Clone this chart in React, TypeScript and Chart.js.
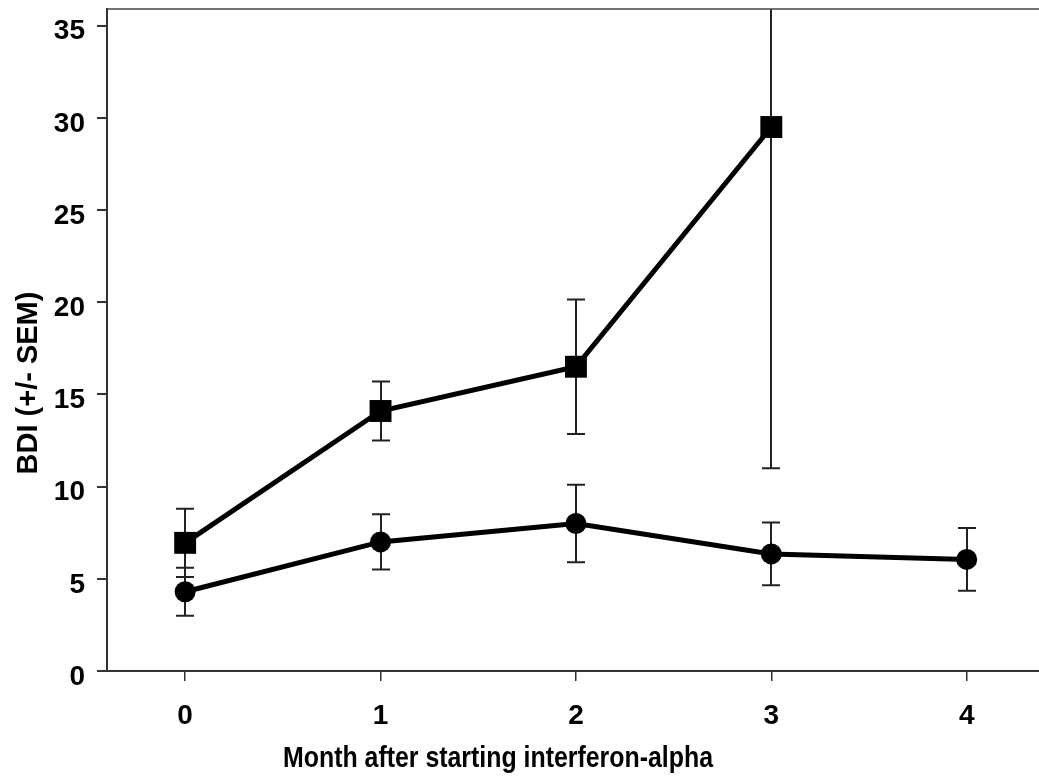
import React, { useEffect, useRef } from 'react';
import { Chart, registerables } from 'chart.js';

Chart.register(...registerables);

// ---- data ----
const squareMonths = [0, 1, 2, 3];
const squareMean = [6.95, 14.1, 16.5, 29.5];
const squareSem = [1.85, 1.6, 3.65, 18.5];

const circleMonths = [0, 1, 2, 3, 4];
const circleMean = [4.3, 7.0, 8.0, 6.35, 6.05];
const circleSem = [1.3, 1.5, 2.1, 1.7, 1.7];

const xTickValues = [0, 1, 2, 3, 4];
const yTickValues = [0, 5, 10, 15, 20, 25, 30, 35];

const xTitle = 'Month after starting interferon-alpha';
const yTitle = 'BDI (+/- SEM)';

const FONT = '"Liberation Sans", Arial, Helvetica, sans-serif';

const errorBarPlugin = {
  id: 'errorBars',
  beforeDatasetsDraw(chart: any) {
    const { ctx, chartArea, scales } = chart;
    const xs = scales.x;
    const ys = scales.y;
    ctx.save();
    ctx.beginPath();
    ctx.rect(chartArea.left, chartArea.top, chartArea.right - chartArea.left, chartArea.bottom - chartArea.top);
    ctx.clip();
    ctx.strokeStyle = '#222';
    ctx.lineWidth = 2;
    chart.data.datasets.forEach((ds: any) => {
      const errs: number[] = ds.errors || [];
      ds.data.forEach((p: any, i: number) => {
        const e = errs[i];
        if (e == null) return;
        const px = Math.round(xs.getPixelForValue(p.x));
        const hi = ys.getPixelForValue(p.y + e);
        const lo = ys.getPixelForValue(p.y - e);
        ctx.beginPath();
        ctx.moveTo(px, hi);
        ctx.lineTo(px, lo);
        ctx.moveTo(px - 9, hi);
        ctx.lineTo(px + 9, hi);
        ctx.moveTo(px - 9, lo);
        ctx.lineTo(px + 9, lo);
        ctx.stroke();
      });
    });
    ctx.restore();
  },
};

const framePlugin = {
  id: 'frameAndTitles',
  afterDraw(chart: any) {
    const { ctx, chartArea } = chart;
    ctx.save();
    // top frame line
    ctx.strokeStyle = '#444';
    ctx.lineWidth = 1.5;
    ctx.beginPath();
    ctx.moveTo(chartArea.left, chartArea.top);
    ctx.lineTo(chartArea.right, chartArea.top);
    ctx.stroke();

    ctx.fillStyle = '#000';
    // x title (narrow bold lettering)
    ctx.font = 'bold 29px ' + FONT;
    ctx.textAlign = 'center';
    ctx.textBaseline = 'alphabetic';
    const w = ctx.measureText(xTitle).width;
    const sx = Math.min(1, 430 / w);
    ctx.save();
    ctx.translate(498, 767);
    ctx.scale(sx, 1);
    ctx.fillText(xTitle, 0, 0);
    ctx.restore();

    // y title
    ctx.save();
    ctx.font = 'bold 29px ' + FONT;
    ctx.translate(37, 383);
    ctx.rotate(-Math.PI / 2);
    ctx.textAlign = 'center';
    ctx.textBaseline = 'alphabetic';
    ctx.fillText(yTitle, 0, 0);
    ctx.restore();
    ctx.restore();
  },
};

export default function App() {
  const ref = useRef<HTMLCanvasElement | null>(null);

  useEffect(() => {
    const canvas = ref.current;
    if (!canvas) return;
    const chart = new Chart(canvas, {
      type: 'line',
      data: {
        datasets: [
          {
            label: 'Depressed',
            data: squareMonths.map((m, i) => ({ x: m, y: squareMean[i] })),
            errors: squareSem,
            borderColor: '#000',
            backgroundColor: '#000',
            borderWidth: 5,
            pointStyle: 'rect',
            pointRadius: 15.5,
            pointHoverRadius: 15.5,
            pointBorderWidth: 0,
            pointBackgroundColor: '#000',
          } as any,
          {
            label: 'Non-depressed',
            data: circleMonths.map((m, i) => ({ x: m, y: circleMean[i] })),
            errors: circleSem,
            borderColor: '#000',
            backgroundColor: '#000',
            borderWidth: 5,
            pointStyle: 'circle',
            pointRadius: 10.5,
            pointHoverRadius: 10.5,
            pointBorderWidth: 0,
            pointBackgroundColor: '#000',
          } as any,
        ],
      },
      options: {
        animation: false,
        responsive: false,
        devicePixelRatio: 1,
        layout: { padding: { top: 9, right: 0, bottom: 0, left: 0 }, autoPadding: false },
        plugins: {
          legend: { display: false },
          tooltip: { enabled: false },
          title: { display: false },
        },
        scales: {
          x: {
            type: 'linear',
            min: -0.4,
            max: 4.37,
            afterBuildTicks: (s: any) => {
              s.ticks = xTickValues.map((v) => ({ value: v }));
            },
            afterFit: (s: any) => {
              s.height = 108;
              s.paddingLeft = 0;
              s.paddingRight = 0;
            },
            border: { display: true, color: '#333', width: 2 },
            grid: {
              display: true,
              drawOnChartArea: false,
              drawTicks: true,
              tickLength: 10,
              color: '#333',
              lineWidth: 1.5,
            },
            ticks: {
              color: '#000',
              padding: 18,
              font: { family: FONT, size: 28, weight: 'bold' },
              callback: (v: any) => String(v),
            },
          },
          y: {
            type: 'linear',
            min: 0,
            max: 35.9,
            afterBuildTicks: (s: any) => {
              s.ticks = yTickValues.map((v) => ({ value: v }));
            },
            afterFit: (s: any) => {
              s.width = 107;
              s.paddingTop = 0;
              s.paddingBottom = 0;
            },
            border: { display: true, color: '#333', width: 2 },
            grid: {
              display: true,
              drawOnChartArea: false,
              drawTicks: true,
              tickLength: 10,
              color: '#333',
              lineWidth: 2,
            },
            ticks: {
              color: '#000',
              padding: 12,
              labelOffset: 6,
              font: { family: FONT, size: 28, weight: 'bold' },
              callback: (v: any) => String(v),
            },
          },
        },
      } as any,
      plugins: [errorBarPlugin, framePlugin],
    });
    return () => chart.destroy();
  }, []);

  return (
    <div style={{ position: 'absolute', left: 0, top: 0, width: 1039, height: 779, background: '#fff' }}>
      <canvas ref={ref} width={1039} height={779} style={{ display: 'block' }} />
    </div>
  );
}
